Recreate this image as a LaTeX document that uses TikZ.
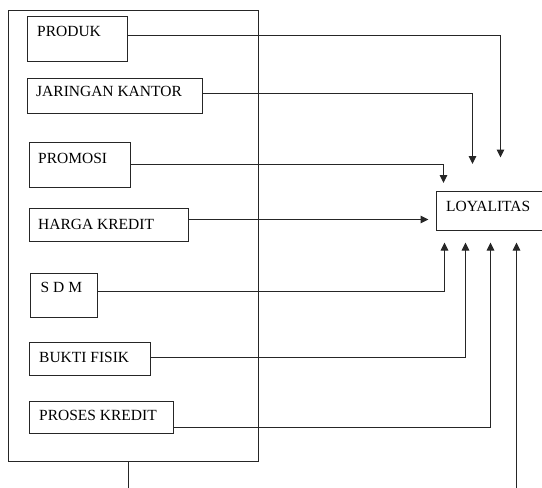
\documentclass[tikz,border=0pt]{standalone}
\usepackage{fontspec}
\setmainfont{Liberation Serif}
\usetikzlibrary{arrows.meta}
\begin{document}
\begin{tikzpicture}[x=1pt,y=-1pt,
  box/.style={draw=black!85, line width=1pt, inner sep=0pt, outer sep=0pt, anchor=north west},
  lbl/.style={inner sep=0pt, anchor=base west, font=\fontsize{15.5}{18}\selectfont, text=black},
  conn/.style={draw=black!85, line width=1pt},
  arr/.style={conn, -{Triangle[length=8pt,width=7.5pt]}}]
\useasboundingbox (0,0) rectangle (542,488);
% outer frame
\node[box, minimum width=250pt, minimum height=451pt] (outer) at (8.5,10.5) {};
% boxes
\node[box, minimum width=100pt, minimum height=45pt] (prod) at (27.5,16.5) {};
\node[box, minimum width=175pt, minimum height=35pt] (jar) at (27.5,78.5) {};
\node[box, minimum width=101pt, minimum height=45pt] (prom) at (29.5,142.5) {};
\node[box, minimum width=159pt, minimum height=33pt] (harga) at (29.5,208.5) {};
\node[box, minimum width=67pt, minimum height=44pt] (sdm) at (30.5,273.5) {};
\node[box, minimum width=121pt, minimum height=33pt] (bukti) at (29.5,342.5) {};
\node[box, minimum width=144pt, minimum height=32pt] (proses) at (29.5,401.5) {};
\node[box, minimum width=130pt, minimum height=39pt] (loyal) at (436.5,191.5) {};
% labels
\node[lbl] (tprod) at (37,36.5) {PRODUK};
\node[lbl] (tjar) at (36,96.5) {JARINGAN KANTOR};
\node[lbl] (tprom) at (38,163) {PROMOSI};
\node[lbl] (tharga) at (38,229) {HARGA KREDIT};
\node[lbl] (tsdm) at (40.5,292.5) {S D M};
\node[lbl] (tbukti) at (39,362) {BUKTI FISIK};
\node[lbl] (tproses) at (39,420) {PROSES KREDIT};
\node[lbl] (tloyal) at (446,211) {LOYALITAS};
% arrow end points
\coordinate (e1) at (500.5,157.5);
\coordinate (e2) at (472.5,164);
\coordinate (e3) at (443.5,183);
\coordinate (e4) at (428.5,219.5);
\coordinate (e5) at (444.5,242.5);
\coordinate (e6) at (465.5,242.5);
\coordinate (e7) at (490.5,242.5);
\coordinate (e8) at (516.5,242.5);
\coordinate (s1) at (128.5,488);
\coordinate (s2) at (516.5,488);
% connectors
\draw[arr] (prod.east |- 0,35.5) -| (e1);
\draw[arr] (jar.east |- 0,93.5) -| (e2);
\draw[arr] (prom.east |- 0,164.5) -| (e3);
\draw[arr] (harga.east |- 0,219.5) -- (e4);
\draw[arr] (sdm.east |- 0,291.5) -| (e5);
\draw[arr] (bukti.east |- 0,357.5) -| (e6);
\draw[arr] (proses.east |- 0,427.5) -| (e7);
\draw[arr] (s2) -- (e8);
\draw[conn] (outer.south -| s1) -- (s1);
\end{tikzpicture}
\end{document}
